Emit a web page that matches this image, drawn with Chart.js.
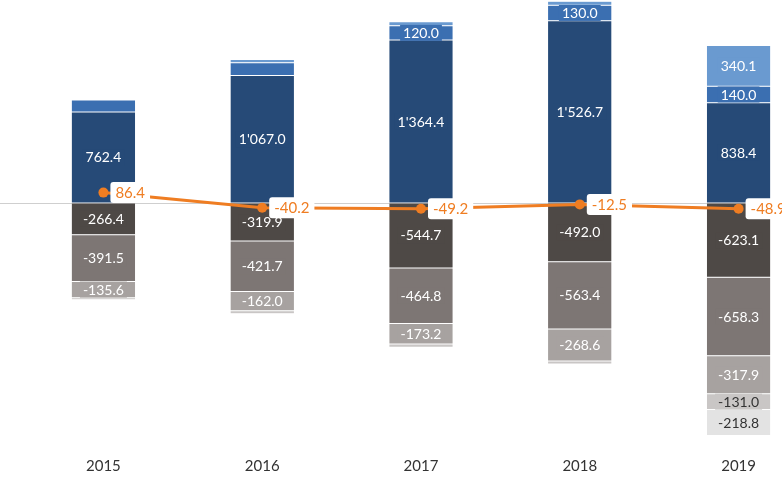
<!DOCTYPE html>
<html>
<head>
<meta charset="utf-8">
<script src="https://cdn.jsdelivr.net/npm/chart.js@4/dist/chart.umd.min.js"></script>
<style>
  html, body { margin: 0; padding: 0; background: #fff; overflow: hidden; }
  #wrap { position: relative; width: 818px; height: 492px; }
</style>
</head>
<body>
<div id="wrap"><canvas id="chart"></canvas></div>
<script>
        // Chart data
        const years = ['2015', '2016', '2017', '2018', '2019'];

        const darkBlue = [762.4, 1067.0, 1364.4, 1526.7, 838.4];
        const midBlue = [100, 108, 120.0, 130.0, 140.0];
        const lightBlue = [8, 27, 33, 33, 340.1];

        const darkGray = [-266.4, -319.9, -544.7, -492.0, -623.1];
        const midGray = [-391.5, -421.7, -464.8, -563.4, -658.3];
        const lightGray = [-135.6, -162.0, -173.2, -268.6, -317.9];
        const paleGray = [-18, -25, -26, -26, -131.0];
        const palestGray = [0, 0, 0, 0, -218.8];

        const netLine = [86.4, -40.2, -49.2, -12.5, -48.9];

        const FONT = 'Lato, "Open Sans", sans-serif';

        // 1'234.5 style
        function fmt(v) {
            const s = Math.abs(v).toFixed(1);
            const parts = s.split('.');
            const intPart = parts[0].replace(/\B(?=(\d{3})+(?!\d))/g, "'");
            return (v < 0 ? '-' : '') + intPart + '.' + parts[1];
        }

        function barSet(label, data, color, textColor) {
            return {
                type: 'bar',
                label: label,
                data: data,
                backgroundColor: color,
                borderColor: 'rgba(255,255,255,0.35)',
                borderWidth: { top: 0.5, bottom: 0.5, left: 0, right: 0 },
                borderSkipped: false,
                stack: 's',
                order: 1,
                categoryPercentage: 0.8,
                barPercentage: 0.5,
                textColor: textColor
            };
        }

        // Zero line across the whole width
        const zeroLine = {
            id: 'zeroLine',
            beforeDatasetsDraw(chart) {
                const y = Math.round(chart.scales.y.getPixelForValue(0)) + 0.5;
                const ctx = chart.ctx;
                ctx.save();
                ctx.strokeStyle = '#cfcfcf';
                ctx.lineWidth = 1;
                ctx.beginPath();
                ctx.moveTo(0, y);
                ctx.lineTo(chart.width, y);
                ctx.stroke();
                ctx.restore();
            }
        };

        // Value labels on segments and on the line
        const valueLabels = {
            id: 'valueLabels',
            afterDatasetsDraw(chart) {
                const ctx = chart.ctx;
                ctx.save();
                ctx.font = '14px ' + FONT;
                ctx.textAlign = 'center';
                ctx.textBaseline = 'middle';
                chart.data.datasets.forEach((ds, i) => {
                    if (ds.type !== 'bar') return;
                    const meta = chart.getDatasetMeta(i);
                    meta.data.forEach((el, j) => {
                        const v = ds.data[j];
                        if (Math.abs(v) < 115) return;
                        const cy = (el.y + el.base) / 2;
                        const txt = fmt(v);
                        const w = ctx.measureText(txt).width + 6;
                        ctx.fillStyle = ds.backgroundColor;
                        ctx.fillRect(el.x - w / 2, cy - 8, w, 16);
                        ctx.fillStyle = ds.textColor;
                        ctx.fillText(txt, el.x, cy + 0.5);
                    });
                });

                // line labels
                chart.data.datasets.forEach((ds, i) => {
                    if (ds.type !== 'line') return;
                    const meta = chart.getDatasetMeta(i);
                    ctx.font = '15px ' + FONT;
                    meta.data.forEach((pt, j) => {
                        const txt = fmt(ds.data[j]);
                        const w = ctx.measureText(txt).width + 10;
                        const x0 = pt.x + 7;
                        const h = 21;
                        ctx.fillStyle = '#ffffff';
                        ctx.beginPath();
                        ctx.roundRect(x0, pt.y - h / 2, w, h, 3);
                        ctx.fill();
                        ctx.fillStyle = '#ef7d22';
                        ctx.textAlign = 'center';
                        ctx.fillText(txt, x0 + w / 2, pt.y + 0.5);
                    });
                });
                ctx.restore();
            }
        };

        const ctx = document.getElementById('chart').getContext('2d');
        new Chart(ctx, {
            data: {
                labels: years,
                datasets: [
                    {
                        type: 'line',
                        label: 'Net',
                        data: netLine,
                        borderColor: '#ef7d22',
                        backgroundColor: '#ef7d22',
                        borderWidth: 3,
                        pointRadius: 5,
                        pointBorderWidth: 0,
                        tension: 0,
                        order: 0
                    },
                    barSet('A', darkBlue, '#264a77', '#ffffff'),
                    barSet('B', midBlue, '#3b6fb1', '#ffffff'),
                    barSet('C', lightBlue, '#6a9ad0', '#ffffff'),
                    barSet('D', darkGray, '#4e4946', '#ffffff'),
                    barSet('E', midGray, '#7d7674', '#ffffff'),
                    barSet('F', lightGray, '#a7a2a0', '#ffffff'),
                    barSet('G', paleGray, '#c9c6c5', '#333333'),
                    barSet('H', palestGray, '#e3e3e3', '#333333')
                ]
            },
            options: {
                responsive: true,
                maintainAspectRatio: false,
                animation: false,
                layout: { autoPadding: false, padding: { left: 24, right: 0, top: 0, bottom: 0 } },
                plugins: {
                    legend: { display: false },
                    tooltip: { enabled: false }
                },
                scales: {
                    x: {
                        stacked: true,
                        grid: { display: false, drawTicks: false },
                        border: { display: false },
                        ticks: {
                            color: '#333333',
                            padding: 7,
                            font: { family: FONT, size: 15 }
                        },
                        afterFit(axis) { axis.height = 42; }
                    },
                    y: {
                        display: false,
                        stacked: true,
                        min: -2070,
                        max: 1700
                    }
                }
            },
            plugins: [zeroLine, valueLabels]
        });
</script>
</body>
</html>
